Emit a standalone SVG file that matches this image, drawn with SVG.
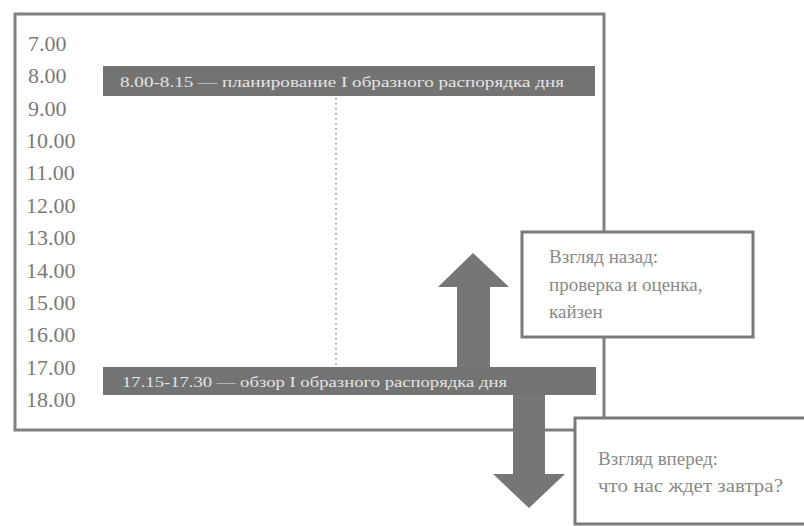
<svg xmlns="http://www.w3.org/2000/svg" width="804" height="526" viewBox="0 0 804 526">
<style>
  .frame { fill: #ffffff; stroke: #808080; stroke-width: 3; }
  .hour { font-family: "Liberation Serif", "DejaVu Serif", serif; font-size: 22px; fill: #7a7a7a; }
  .bar { fill: #737373; }
  .bartext { font-family: "Liberation Serif", "DejaVu Serif", serif; font-size: 15px; fill: #e4e4e4; }
  .box { fill: #ffffff; stroke: #7a7a7a; stroke-width: 3; }
  .boxtext { font-family: "Liberation Serif", "DejaVu Serif", serif; font-size: 19px; fill: #8a8a8a; }
  .arrow { fill: #767676; }
  .dots { stroke: #8a8a8a; stroke-width: 1.5; stroke-dasharray: 1.5 3.5; fill: none; }
</style>
<rect x="0" y="0" width="804" height="526" fill="#ffffff"/>
<g id="timeline">
  <rect class="frame" x="15" y="14" width="589" height="416"/>
  <text class="hour" x="28" y="51">7.00</text>
  <text class="hour" x="28" y="83">8.00</text>
  <text class="hour" x="28" y="116">9.00</text>
  <text class="hour" x="26" y="148">10.00</text>
  <text class="hour" x="26" y="180">11.00</text>
  <text class="hour" x="26" y="213">12.00</text>
  <text class="hour" x="26" y="245">13.00</text>
  <text class="hour" x="26" y="278">14.00</text>
  <text class="hour" x="26" y="310">15.00</text>
  <text class="hour" x="26" y="342">16.00</text>
  <text class="hour" x="26" y="375">17.00</text>
  <text class="hour" x="26" y="407">18.00</text>
</g>
<g id="connectors">
  <line class="dots" x1="336" y1="98" x2="336" y2="366"/>
  <polygon class="arrow" points="473,253 509,287 490,287 490,368 457,368 457,287 438,287"/>
  <polygon class="arrow" points="513,394 545,394 545,474 565,474 529,508 493,474 513,474"/>
</g>
<g id="bar-morning">
  <rect class="bar" x="103" y="66" width="492" height="30"/>
  <text class="bartext" x="120" y="87" textLength="444" lengthAdjust="spacingAndGlyphs">8.00-8.15 — планирование I образного распорядка дня</text>
</g>
<g id="bar-evening">
  <rect class="bar" x="103" y="367" width="493" height="28"/>
  <text class="bartext" x="122" y="387" textLength="385" lengthAdjust="spacingAndGlyphs">17.15-17.30 — обзор I образного распорядка дня</text>
</g>
<g id="box-back">
  <rect class="box" x="522" y="232" width="231" height="105"/>
  <text class="boxtext" x="549" y="263">Взгляд назад:</text>
  <text class="boxtext" x="549" y="291">проверка и оценка,</text>
  <text class="boxtext" x="549" y="318">кайзен</text>
</g>
<g id="box-forward">
  <rect class="box" x="575" y="418" width="235" height="106"/>
  <text class="boxtext" x="598" y="465">Взгляд вперед:</text>
  <text class="boxtext" x="598" y="492" textLength="185" lengthAdjust="spacingAndGlyphs">что нас ждет завтра?</text>
</g>
</svg>
